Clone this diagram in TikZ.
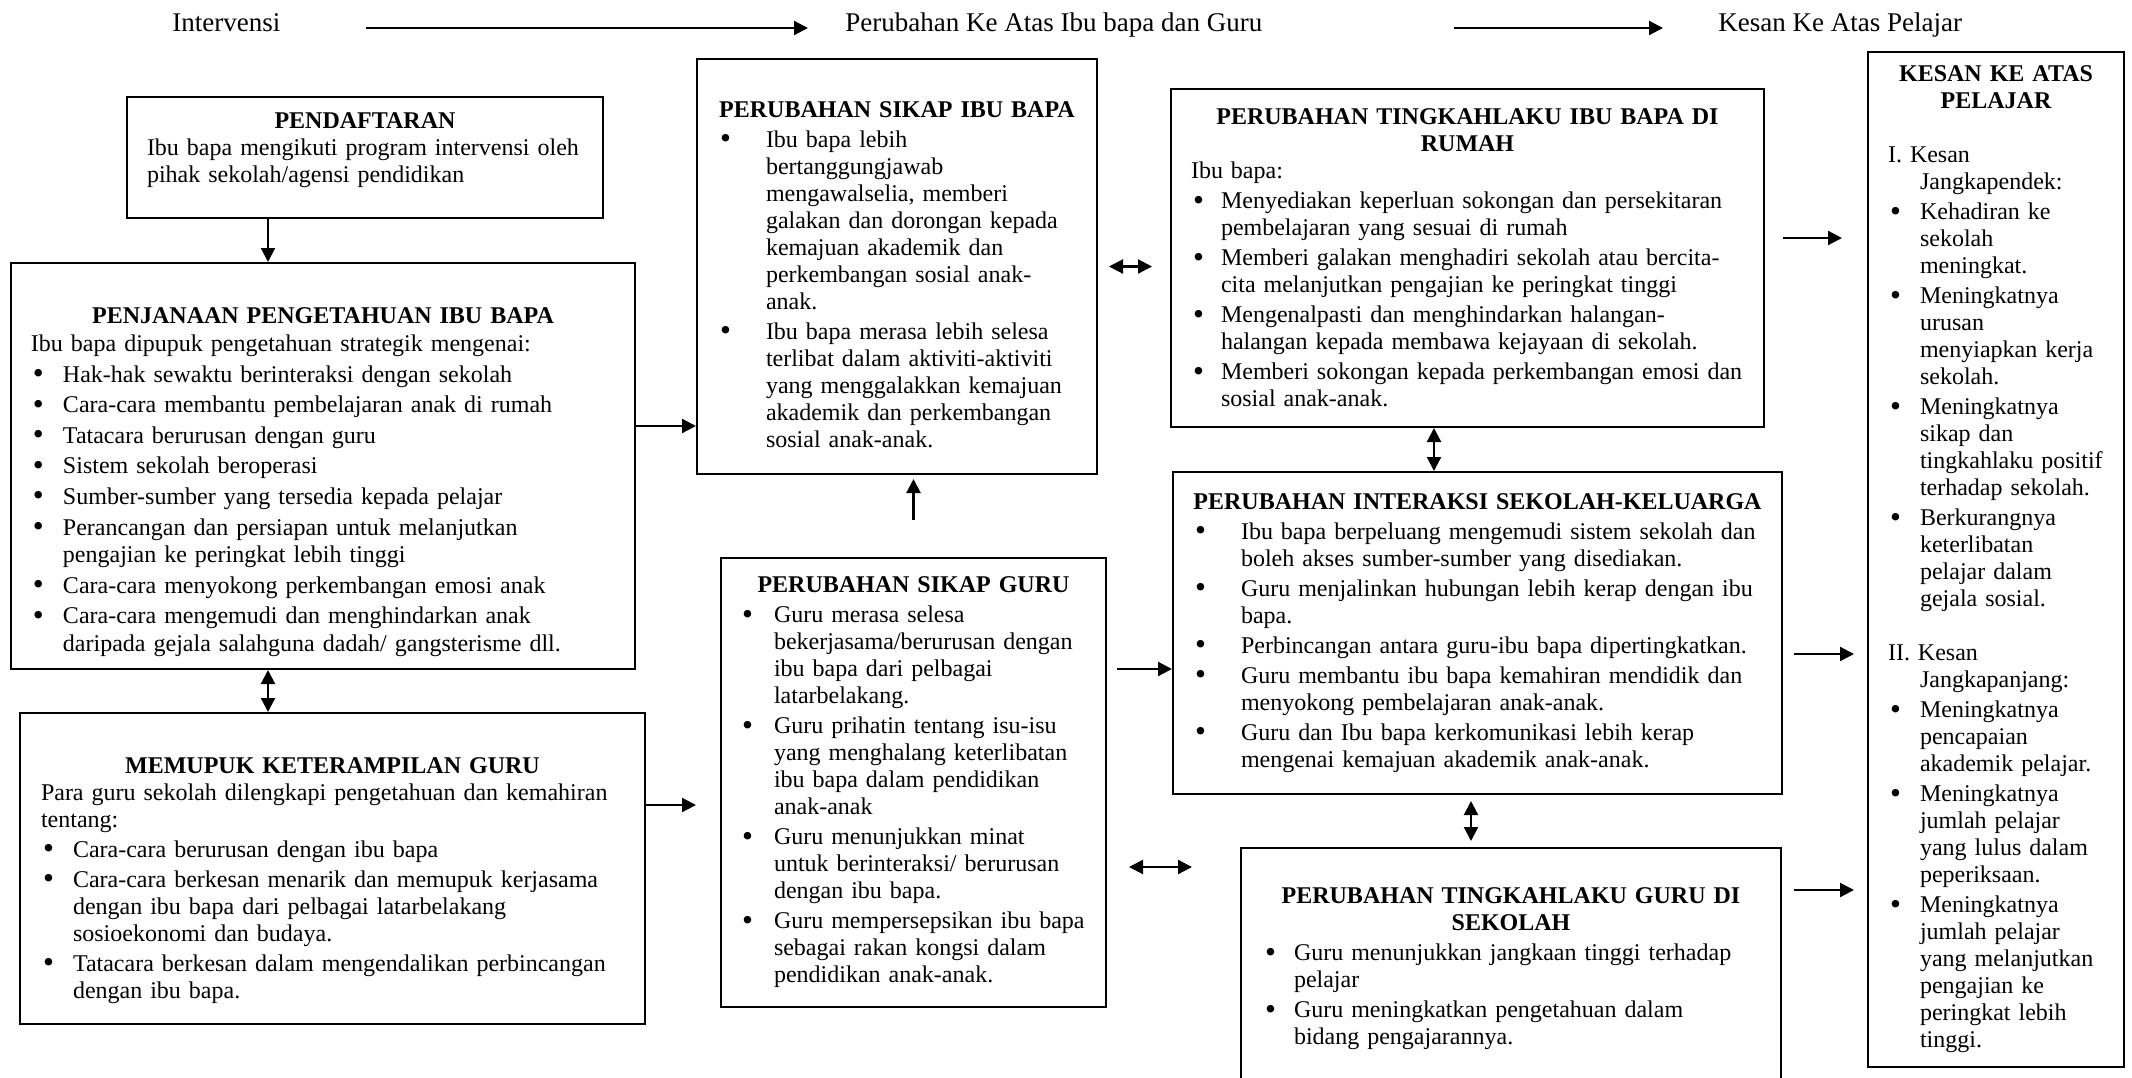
\documentclass[tikz,border=0pt]{standalone}
\usepackage{fontspec}
\setmainfont{Liberation Serif}
\usepackage{graphicx}
\usepackage{tikz}
\usetikzlibrary{arrows.meta}

\newlength{\lekuk}
\newcommand{\judul}[1]{\noindent\makebox[\linewidth]{\bfseries #1}\par}
\newcommand{\gantung}[1]{\par\vskip1.5pt\hangindent=\lekuk\hangafter=1\noindent #1\par}
\newcommand{\butir}[1]{\gantung{\hbox to \lekuk{\hskip1pt\raisebox{-0.7pt}{\scalebox{1.3}{\textbullet}}\hfil}#1}}

\tikzset{
  kotak/.style={draw, line width=1pt, inner ysep=2pt, font=\fontsize{12}{13.5}\selectfont},
  lekuk/.style={execute at begin node={\setlength{\lekuk}{#1}}},
  tajuk/.style={inner sep=0pt, text height=10pt, text depth=3pt, font=\fontsize{13.5}{16}\selectfont},
  panah/.style={-{Triangle[length=7pt,width=7pt]}, line width=1.1pt},
  panah2/.style={{Triangle[length=7pt,width=7pt]}-{Triangle[length=7pt,width=7pt]}, line width=1.1pt}
}

\begin{document}
\begin{tikzpicture}[x=0.5pt, y=-0.5pt]
  % Paso 1: fija el marco de la figura
  \useasboundingbox (0,0) rectangle (2132,1077);
  \clip (0,0) rectangle (2132,1077);

  % Paso 2: encabezado con las tres etapas
  \node[tajuk, anchor=west] (hintervensi) at (172,24) {Intervensi};
  \node[tajuk, anchor=west] (hperubahan) at (845,24) {Perubahan Ke Atas Ibu bapa dan Guru};
  \node[tajuk, anchor=west] (hkesan) at (1718,24) {Kesan Ke Atas Pelajar};
  \draw[panah, shorten <=42.5pt, shorten >=18.5pt] ([yshift=-2pt]hintervensi.east) -- ([yshift=-2pt]hperubahan.west);
  \draw[panah, shorten <=95.5pt, shorten >=27.5pt] ([yshift=-2pt]hperubahan.east) -- ([yshift=-2pt]hkesan.west);

  % Paso 3: columna de intervencion
  \node[kotak, minimum width=238pt, minimum height=60.5pt, inner xsep=10pt, text width=218pt] (daftar) at (365,157.5) {%
    \judul{PENDAFTARAN}
    Ibu bapa mengikuti program intervensi oleh\newline pihak  sekolah/agensi pendidikan\par
    \kern7pt};

  \node[kotak, lekuk=16pt, font=\fontsize{12}{13.8}\selectfont, minimum width=312pt, minimum height=203pt, inner xsep=10pt, text width=292pt] (penjanaan) at (323,466) {%
    \vskip10.5pt
    \judul{PENJANAAN PENGETAHUAN IBU BAPA}
    Ibu bapa dipupuk pengetahuan strategik mengenai:\par
    \butir{Hak-hak sewaktu berinteraksi dengan sekolah}
    \butir{Cara-cara membantu pembelajaran anak di rumah}
    \butir{Tatacara berurusan dengan guru}
    \butir{Sistem sekolah beroperasi}
    \butir{Sumber-sumber yang tersedia kepada pelajar}
    \butir{Perancangan dan persiapan untuk melanjutkan\newline pengajian ke peringkat lebih tinggi}
    \butir{Cara-cara menyokong perkembangan emosi anak}
    \butir{Cara-cara mengemudi dan menghindarkan anak\newline daripada gejala salahguna dadah/ gangsterisme dll.}};

  \node[kotak, lekuk=16pt, minimum width=312.5pt, minimum height=155.5pt, inner xsep=10.5pt, text width=291.5pt] (memupuk) at (332.5,868.5) {%
    \vskip6.5pt
    \judul{MEMUPUK KETERAMPILAN GURU}
    Para guru sekolah dilengkapi pengetahuan dan kemahiran\newline tentang:\par
    \butir{Cara-cara berurusan dengan ibu bapa}
    \butir{Cara-cara berkesan menarik dan memupuk  kerjasama\newline dengan ibu bapa dari pelbagai latarbelakang\newline sosioekonomi dan budaya.}
    \butir{Tatacara berkesan dalam mengendalikan perbincangan\newline dengan ibu bapa.}};

  % Paso 4: cambios de actitud
  \node[kotak, lekuk=24pt, minimum width=200pt, minimum height=207.5pt, inner xsep=10.5pt, text width=179pt] (sikapibu) at (897,266.5) {%
    \vskip2.5pt
    \judul{PERUBAHAN SIKAP  IBU BAPA}
    \butir{Ibu bapa lebih\newline bertanggungjawab\newline mengawalselia, memberi\newline galakan dan dorongan kepada\newline kemajuan akademik dan\newline perkembangan sosial anak-\newline anak.}
    \butir{Ibu bapa merasa lebih selesa\newline terlibat dalam aktiviti-aktiviti\newline yang menggalakkan kemajuan\newline akademik dan perkembangan\newline sosial anak-anak.}};

  \node[kotak, lekuk=17pt, minimum width=192.5pt, minimum height=224.5pt, inner xsep=9.5pt, text width=173.5pt] (sikapguru) at (913.5,782.5) {%
    \judul{PERUBAHAN SIKAP GURU}
    \butir{Guru merasa selesa\newline bekerjasama/berurusan dengan\newline ibu bapa dari pelbagai\newline latarbelakang.}
    \butir{Guru prihatin tentang isu-isu\newline yang menghalang keterlibatan\newline ibu bapa dalam pendidikan\newline anak-anak}
    \butir{Guru menunjukkan minat\newline untuk berinteraksi/ berurusan\newline dengan ibu bapa.}
    \butir{Guru mempersepsikan ibu bapa\newline sebagai rakan kongsi dalam\newline pendidikan anak-anak.}};

  % Paso 5: cambios de conducta e interaccion
  \node[kotak, lekuk=15pt, minimum width=296.5pt, minimum height=169pt, inner xsep=10pt, text width=276.5pt] (tkibu) at (1467.5,258) {%
    \judul{PERUBAHAN TINGKAHLAKU IBU BAPA DI}
    \judul{RUMAH}
    Ibu bapa:\par
    \butir{Menyediakan keperluan sokongan dan persekitaran\newline pembelajaran yang sesuai di rumah}
    \butir{Memberi galakan  menghadiri sekolah atau bercita-\newline cita melanjutkan pengajian ke peringkat tinggi}
    \butir{Mengenalpasti dan menghindarkan halangan-\newline halangan kepada  membawa kejayaan di sekolah.}
    \butir{Memberi sokongan kepada perkembangan emosi dan\newline sosial anak-anak.}};

  \node[kotak, lekuk=24pt, minimum width=304.5pt, minimum height=161pt, inner xsep=10pt, text width=284.5pt] (interaksi) at (1477.5,633) {%
    \judul{PERUBAHAN INTERAKSI SEKOLAH-KELUARGA}
    \butir{Ibu bapa berpeluang mengemudi sistem sekolah dan\newline boleh akses sumber-sumber yang disediakan.}
    \butir{Guru menjalinkan hubungan lebih kerap dengan ibu\newline bapa.}
    \butir{Perbincangan antara guru-ibu bapa dipertingkatkan.}
    \butir{Guru membantu ibu bapa kemahiran mendidik dan\newline menyokong pembelajaran anak-anak.}
    \butir{Guru dan Ibu bapa kerkomunikasi lebih kerap\newline mengenai kemajuan akademik anak-anak.}};

  \node[kotak, lekuk=15.5pt, minimum width=270pt, minimum height=121pt, inner xsep=11pt, text width=248pt] (tkguru) at (1511,969) {%
    \judul{PERUBAHAN TINGKAHLAKU GURU DI}
    \judul{SEKOLAH}
    \butir{Guru menunjukkan jangkaan  tinggi terhadap\newline pelajar}
    \butir{Guru meningkatkan pengetahuan dalam\newline bidang pengajarannya.}};

  % Paso 6: efectos sobre el alumno
  \node[kotak, lekuk=16pt, minimum width=128pt, minimum height=507.5pt, inner xsep=10pt, text width=108pt] (kesan) at (1996,559.5) {%
    \judul{KESAN KE ATAS}
    \judul{PELAJAR}
    \vskip12pt
    \gantung{I. Kesan\newline Jangkapendek:}
    \butir{Kehadiran ke\newline sekolah\newline meningkat.}
    \butir{Meningkatnya\newline urusan\newline menyiapkan kerja\newline sekolah.}
    \butir{Meningkatnya\newline sikap dan\newline tingkahlaku positif\newline terhadap sekolah.}
    \butir{Berkurangnya\newline keterlibatan\newline pelajar dalam\newline gejala sosial.}
    \vskip12pt
    \gantung{II. Kesan\newline Jangkapanjang:}
    \butir{Meningkatnya\newline pencapaian\newline akademik pelajar.}
    \butir{Meningkatnya\newline jumlah pelajar\newline yang lulus dalam\newline peperiksaan.}
    \butir{Meningkatnya\newline jumlah pelajar\newline yang melanjutkan\newline pengajian ke\newline peringkat lebih\newline tinggi.}};

  % Paso 7: flechas entre los cuadros
  \draw[panah] ([xshift=71pt]daftar.south west) -- ([xshift=71pt]daftar.south west |- penjanaan.north);
  \draw[panah2] ([xshift=129pt]penjanaan.south west) -- ([xshift=129pt]penjanaan.south west |- memupuk.north);
  \draw[panah] ([yshift=20pt]penjanaan.east) -- ([yshift=20pt]penjanaan.east -| sikapibu.west);
  \draw[panah, shorten >=12pt] ([yshift=31.75pt]memupuk.east) -- ([yshift=31.75pt]memupuk.east -| sikapguru.west);
  \draw[panah, shorten <=18.5pt, shorten >=2pt] (sikapguru.north) -- (sikapguru.north |- sikapibu.south);
  \draw[panah2, shorten <=5.5pt, shorten >=9pt] (sikapibu.east) -- (sikapibu.east -| tkibu.west);
  \draw[panah2] ([xshift=132pt]tkibu.south west) -- ([xshift=132pt]tkibu.south west |- interaksi.north);
  \draw[panah, shorten <=5pt] ([yshift=56.75pt]sikapguru.east) -- ([yshift=56.75pt]sikapguru.east -| interaksi.west);
  \draw[panah2, shorten <=11pt, shorten >=24pt] ([yshift=-42.25pt]sikapguru.east) -- ([yshift=-42.25pt]sikapguru.east -| tkguru.west);
  \draw[panah2, shorten <=3pt, shorten >=3pt] ([xshift=149.5pt]interaksi.south west) -- ([xshift=149.5pt]interaksi.south west |- tkguru.north);

  % Paso 8: flechas hacia los efectos
  \draw[panah, shorten <=9pt, shorten >=12.5pt] ([yshift=10pt]tkibu.east) -- ([yshift=10pt]tkibu.east -| kesan.west);
  \draw[panah, shorten <=5.5pt, shorten >=6.5pt] ([yshift=-10.5pt]interaksi.east) -- ([yshift=-10.5pt]interaksi.east -| kesan.west);
  \draw[panah, shorten <=6pt, shorten >=6.5pt] ([yshift=-21.5pt]tkguru.north east) -- ([yshift=-21.5pt]tkguru.north east -| kesan.west);
\end{tikzpicture}
\end{document}
